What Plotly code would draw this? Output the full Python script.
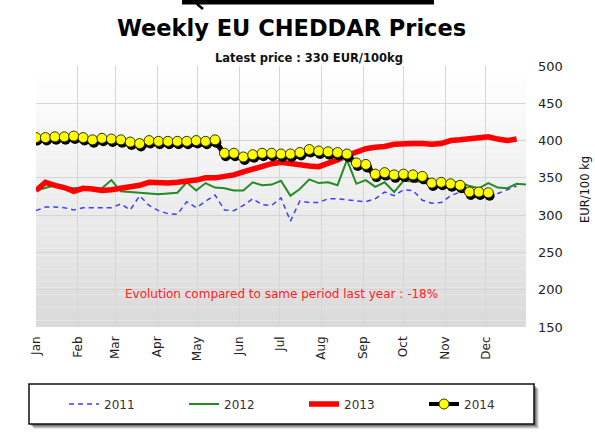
import plotly.graph_objects as go
import pandas as pd

# ---------------- data ----------------
month_labels = ["Jan", "Feb", "Mar", "Apr", "May", "Jun", "Jul", "Aug", "Sep", "Oct", "Nov", "Dec"]
month_starts = pd.date_range("2014-01-01", periods=12, freq="MS")

prices_2011 = [306, 311, 311, 310, 307, 310, 310, 310, 310, 315,
               307, 326, 313, 306, 302, 301, 318, 310, 318, 327,
               307, 306, 313, 322, 314, 313, 323, 292, 319, 317,
               317, 322, 322, 320, 319, 318, 322, 331, 326, 334,
               333, 320, 316, 317, 326, 331, 331, 328, 326, 329, 334, 339]

prices_2012 = [333, 337, 340, 338, 336, 337, 336, 336, 347, 332,
               331, 330, 329, 328, 329, 330, 344, 333, 343, 337,
               336, 333, 333, 344, 340, 341, 346, 326, 335, 348,
               343, 344, 340, 374, 342, 347, 338, 344, 331, 346,
               345, 345, 344, 344, 345, 344, 339, 336, 343, 337,
               336, 342, 341]

prices_2013 = [333, 344, 340, 337, 332, 336, 335, 333, 334, 336,
               337, 340, 344, 343, 343, 344, 345, 347, 350, 350,
               352, 354, 358, 362, 365, 369, 371, 369, 367, 366,
               365, 369, 374, 380, 385, 389, 391, 392, 395, 396,
               396, 396, 395, 396, 400, 401, 402, 404, 405, 402,
               400, 402]

prices_2014 = [404, 404, 405, 405, 406, 404, 401, 403, 402, 401,
               398, 396, 400, 399, 399, 399, 399, 400, 399, 401,
               383, 383, 378, 381, 383, 383, 382, 382, 384, 388,
               386, 385, 384, 382, 370, 368, 355, 357, 354, 355,
               354, 352, 343, 344, 342, 340, 331, 331, 330]

y_ticks = [150, 200, 250, 300, 350, 400, 450, 500]

title_text = "Weekly EU CHEDDAR Prices"
subtitle_text = "Latest price : 330 EUR/100kg"
evolution_text = "Evolution compared to same period last year : -18%"
y_title = "EUR/100 kg"


def weeks(n):
    return pd.date_range("2014-01-01", periods=n, freq="7D")


# ---------------- layout geometry ----------------
W, H = 595, 433
L, R, T, B = 36, 526, 66, 327
pw, ph = R - L, B - T


def px(x):
    return (x - L) / pw


def py(y):
    return (B - y) / ph


fig = go.Figure()

fig.add_trace(go.Scatter(x=weeks(len(prices_2011)), y=prices_2011, name="2011", mode="lines",
                         line=dict(color="#3d3dff", width=1.5, dash="5px,4px")))
fig.add_trace(go.Scatter(x=weeks(len(prices_2012)), y=prices_2012, name="2012", mode="lines",
                         line=dict(color="#228b22", width=2)))
fig.add_trace(go.Scatter(x=weeks(len(prices_2013)), y=prices_2013, name="2013", mode="lines",
                         line=dict(color="#ff0000", width=5.5)))
# drop shadow for 2014
w14 = weeks(len(prices_2014))
fig.add_trace(go.Scatter(x=w14 + pd.Timedelta(days=1), y=[v - 4 for v in prices_2014],
                         mode="lines+markers", showlegend=False, hoverinfo="skip",
                         line=dict(color="#000000", width=5),
                         marker=dict(color="#000000", size=10)))
fig.add_trace(go.Scatter(x=w14, y=prices_2014, name="2014", mode="lines+markers",
                         line=dict(color="#000000", width=4),
                         marker=dict(color="#ffff00", size=10, line=dict(color="#333300", width=1))))

shapes = []
# gradient background
n_bands = 40
for i in range(n_bands):
    t = i / n_bands
    c = int(round(255 - 38 * (1 - (i + 0.5) / n_bands) ** 1.1))
    shapes.append(dict(type="rect", xref="paper", yref="paper", x0=0, x1=1,
                       y0=t, y1=(i + 1) / n_bands, layer="below",
                       line=dict(width=0), fillcolor=f"rgb({c},{c},{c})"))

# legend box with shadow
lx0, lx1, ly0, ly1 = 29, 534, 384, 424
for k, op in [(5, 0.10), (4, 0.15), (3, 0.2), (2, 0.25)]:
    shapes.append(dict(type="rect", xref="paper", yref="paper",
                       x0=px(lx0 + k), x1=px(lx1 + k), y0=py(ly1 + k), y1=py(ly0 + k),
                       line=dict(width=0), fillcolor=f"rgba(0,0,0,{op})", layer="above"))
shapes.append(dict(type="rect", xref="paper", yref="paper",
                   x0=px(lx0), x1=px(lx1), y0=py(ly1), y1=py(ly0),
                   line=dict(color="#111111", width=1.5), fillcolor="#ffffff", layer="above"))
# cropped bar at the very top
shapes.append(dict(type="line", xref="paper", yref="paper",
                   x0=px(182), x1=px(434), y0=py(2), y1=py(2),
                   line=dict(color="#000000", width=5)))
shapes.append(dict(type="line", xref="paper", yref="paper",
                   x0=px(197), x1=px(203), y0=py(4), y1=py(9),
                   line=dict(color="#000000", width=2.5)))

annotations = [
    dict(text=f"<b>{title_text}</b>", xref="paper", yref="paper", x=px(291), y=py(28.4),
         showarrow=False, xanchor="center", yanchor="middle",
         font=dict(family="DejaVu Sans", size=22.5, color="#000000")),
    dict(text=f"<b>{subtitle_text}</b>", xref="paper", yref="paper", x=px(309), y=py(58),
         showarrow=False, xanchor="center", yanchor="middle",
         font=dict(family="DejaVu Sans", size=11.5, color="#111111")),
    dict(text=evolution_text, xref="paper", yref="paper", x=px(281.5), y=py(294),
         showarrow=False, xanchor="center", yanchor="middle",
         font=dict(family="DejaVu Sans", size=12, color="#ff2020")),
    dict(text=y_title, xref="paper", yref="paper", x=px(585), y=py(190),
         showarrow=False, xanchor="center", yanchor="middle", textangle=-90,
         font=dict(family="DejaVu Sans", size=11.5, color="#111111")),
]

fig.update_layout(
    width=W, height=H,
    margin=dict(l=L, r=W - R, t=T, b=H - B, pad=0),
    paper_bgcolor="#ffffff",
    plot_bgcolor="rgba(0,0,0,0)",
    font=dict(family="DejaVu Sans", size=12, color="#333333"),
    showlegend=True,
    legend=dict(orientation="h", x=px(64), xanchor="left", y=py(404), yanchor="middle",
                bgcolor="rgba(0,0,0,0)", borderwidth=0, entrywidth=75, entrywidthmode="pixels",
                font=dict(family="DejaVu Sans", size=12, color="#333333")),
    shapes=shapes,
    annotations=annotations,
    xaxis=dict(type="date", range=["2014-01-01", "2014-12-31"],
               tickvals=month_starts, ticktext=month_labels, tickangle=-90,
               showgrid=True, gridcolor="#d6d6d6", gridwidth=1,
               zeroline=False, showline=False, ticks="", ticklabelstandoff=6,
               tickfont=dict(family="DejaVu Sans", size=12, color="#222222")),
    yaxis=dict(range=[150, 500], side="right", tickvals=y_ticks,
               showgrid=True, gridcolor="#d6d6d6", gridwidth=1,
               zeroline=False, showline=False, ticks="", ticklabelstandoff=11,
               tickfont=dict(family="DejaVu Sans", size=13, color="#222222")),
)

fig.write_html("out.html", config={"displayModeBar": False},
               post_script="document.body.style.margin='0';document.body.style.overflow='hidden';")
